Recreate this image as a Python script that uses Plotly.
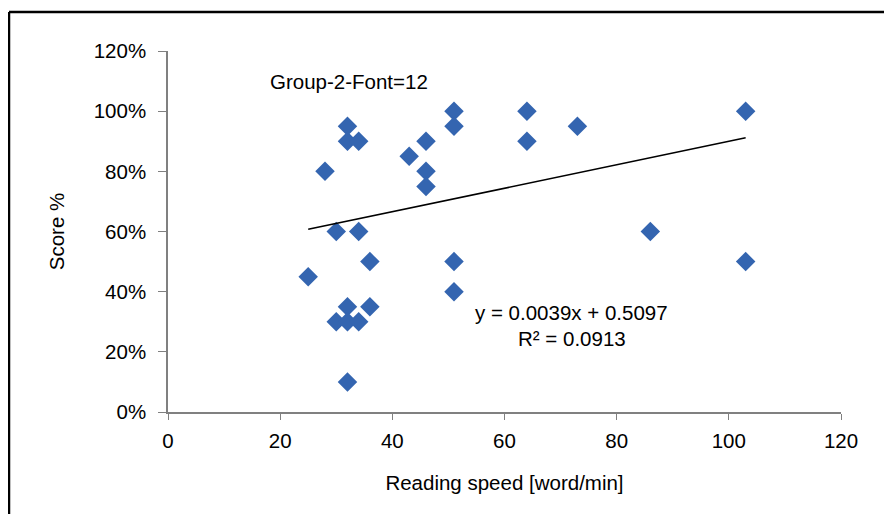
import plotly.graph_objects as go

# Data
reading_speed = [32, 32, 34, 28, 43, 46, 51, 51, 46, 46, 30, 34, 36, 25, 51, 51,
                 32, 36, 30, 32, 34, 32, 64, 64, 73, 86, 103, 103]
score = [0.95, 0.90, 0.90, 0.80, 0.85, 0.90, 1.00, 0.95, 0.80, 0.75, 0.60, 0.60,
         0.50, 0.45, 0.50, 0.40, 0.35, 0.35, 0.30, 0.30, 0.30, 0.10, 1.00, 0.90,
         0.95, 0.60, 1.00, 0.50]
trend_slope = 0.0039
trend_intercept = 0.5097
r_squared = 0.0913
x_ticks = [0, 20, 40, 60, 80, 100, 120]
y_ticks = [0, 0.2, 0.4, 0.6, 0.8, 1.0, 1.2]

FONT = "Liberation Sans, Arial, sans-serif"
fs = 20.5

x_min, x_max = min(reading_speed), max(reading_speed)
trend_x = [x_min, x_max]
trend_y = [trend_slope * v + trend_intercept for v in trend_x]

fig = go.Figure()
fig.add_trace(go.Scatter(
    x=reading_speed, y=score, mode="markers",
    marker=dict(symbol="diamond", size=15, color="#3465b0",
                line=dict(width=0)),
    showlegend=False, hoverinfo="x+y"))
fig.add_trace(go.Scatter(
    x=trend_x, y=trend_y, mode="lines",
    line=dict(color="black", width=1.5),
    showlegend=False, hoverinfo="skip"))

fig.add_annotation(x=32.3, y=1.10, xref="x", yref="y", text="Group-2-Font=12",
                   showarrow=False, font=dict(family=FONT, size=fs, color="black"))
fig.add_annotation(x=72.0, y=0.33, xref="x", yref="y",
                   text=f"y = {trend_slope}x + {trend_intercept}",
                   showarrow=False, font=dict(family=FONT, size=fs, color="black"))
fig.add_annotation(x=72.0, y=0.243, xref="x", yref="y",
                   text=f"R² = {r_squared}",
                   showarrow=False, font=dict(family=FONT, size=fs, color="black"))

# outer frame (left and top edges visible); page has 8px body margin
L, T, PW, PH = 160, 43, 673, 361
def px(xp):
    return (xp - 8 - L) / PW
def py(yp):
    return (T + PH - (yp - 8)) / PH

fig.add_shape(type="line", xref="paper", yref="paper",
              x0=px(9), x1=px(9), y0=py(12), y1=py(530),
              line=dict(color="black", width=2.5))
fig.add_shape(type="line", xref="paper", yref="paper",
              x0=px(9), x1=px(900), y0=py(12), y1=py(12),
              line=dict(color="black", width=2.5))

fig.update_layout(
    width=884, height=506,
    margin=dict(l=L, r=884 - L - PW, t=T, b=506 - T - PH),
    paper_bgcolor="white", plot_bgcolor="white",
    font=dict(family=FONT, size=fs, color="black"),
    xaxis=dict(range=[0, 120], tickvals=x_ticks, showgrid=False, zeroline=False,
               showline=True, linecolor="#808080", linewidth=1.5,
               ticks="outside", ticklen=6, tickcolor="#808080",
               ticklabelstandoff=4,
               title=dict(text="Reading speed [word/min]", standoff=24,
                          font=dict(family=FONT, size=fs))),
    yaxis=dict(range=[0, 1.2], tickvals=y_ticks, tickformat=".0%",
               showgrid=False, zeroline=False,
               showline=True, linecolor="#808080", linewidth=1.5,
               ticks="outside", ticklen=8, tickcolor="#808080",
               ticklabelstandoff=8,
               title=dict(text="Score %", standoff=24,
                          font=dict(family=FONT, size=fs))),
)

fig.write_html("out.html")
